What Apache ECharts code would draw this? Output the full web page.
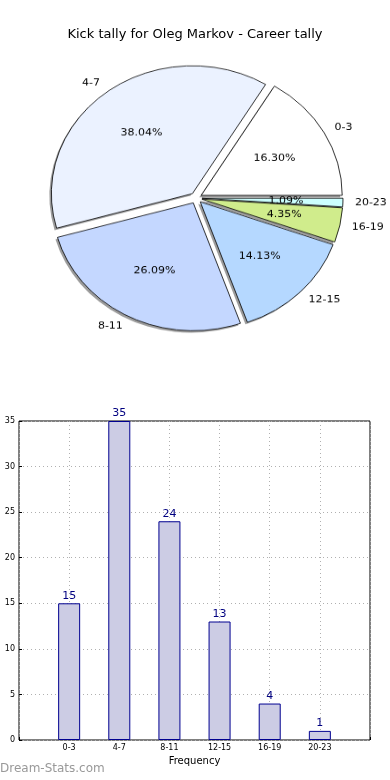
<!DOCTYPE html>
<html>
<head>
<meta charset="utf-8">
<script src="https://cdn.jsdelivr.net/npm/echarts@6/dist/echarts.min.js"></script>
<style>
html,body{margin:0;padding:0;background:#fff;}
#wrap{position:relative;width:390px;height:780px;overflow:hidden;}
#main{position:absolute;left:0;top:0;width:390px;height:780px;}
#pie{position:absolute;left:0;top:0;width:390px;height:400px;transform:scaleY(0.907);transform-origin:196px 198px;}
</style>
</head>
<body>
<div id="wrap"><div id="main"></div><div id="pie"></div></div>
<script>
const titleText = 'Kick tally for Oleg Markov - Career tally';
const categories = ['0-3', '4-7', '8-11', '12-15', '16-19', '20-23'];
const counts = [15, 35, 24, 13, 4, 1];
const pieColors = ['#ffffff', '#ebf2ff', '#c4d7ff', '#b5d8ff', '#d0ec8c', '#ccffff'];
const yMin = 0, yMax = 35, yStep = 5;
const xAxisName = 'Frequency';
const yAxisName = 'Distribution';
const watermark = 'Dream-Stats.com';

const FONT = 'DejaVu Sans';
const total = counts.reduce((a, b) => a + b, 0);

// ---------- main chart: title + bar chart ----------
const main = echarts.init(document.getElementById('main'), null, {renderer: 'canvas'});
main.setOption({
  animation: false,
  title: {
    text: titleText, left: 'center', top: 23,
    textStyle: {fontFamily: FONT, fontSize: 13, fontWeight: 'normal', color: '#000'}
  },
  grid: {left: 19, right: 20, top: 421, bottom: 40, containLabel: false, outerBoundsMode: 'none',
    show: true, borderColor: '#000', borderWidth: 1, backgroundColor: 'transparent'},
  xAxis: {
    type: 'value', min: 0, max: categories.length + 1, interval: 1,
    name: xAxisName, nameLocation: 'middle', nameGap: 16,
    nameTextStyle: {fontFamily: FONT, fontSize: 10, color: '#000'},
    axisLine: {show: false},
    axisTick: {show: true, inside: true, length: 3, lineStyle: {color: '#000'}},
    axisLabel: {fontFamily: FONT, fontSize: 8, color: '#000', margin: 4,
      formatter: v => (v >= 1 && v <= categories.length) ? categories[v - 1] : ''},
    splitLine: {show: true, lineStyle: {color: '#b0b0b0', type: [1, 3], width: 1}}
  },
  yAxis: {
    type: 'value', min: yMin, max: yMax, interval: yStep,
    name: yAxisName, nameLocation: 'middle', nameGap: 18, nameRotate: 90,
    nameTextStyle: {fontFamily: FONT, fontSize: 10, color: '#000'},
    axisLine: {show: false},
    axisTick: {show: true, inside: true, length: 3, lineStyle: {color: '#000'}},
    axisLabel: {fontFamily: FONT, fontSize: 8, color: '#000', margin: 4},
    splitLine: {show: true, lineStyle: {color: '#b0b0b0', type: [1, 3], width: 1}}
  },
  graphic: [{
    type: 'text', left: 0, top: 763,
    style: {text: watermark, fontFamily: FONT, fontSize: 12, fontWeight: 'normal', fill: '#999999'}
  }],
  series: [{
    type: 'bar',
    data: counts.map((v, i) => [i + 1, v]),
    barWidth: 22,
    itemStyle: {color: '#ccccE4', borderColor: '#000090', borderWidth: 1},
    label: {show: true, position: 'top', distance: 2, fontFamily: FONT, fontSize: 11, color: '#000080'},
    z: 1
  }]
});

// ---------- pie chart ----------
const R = 141;
const OFF = 6;
const CX = 196, CY = 198;
const pie = echarts.init(document.getElementById('pie'), null, {renderer: 'canvas'});
const common = {
  type: 'pie', radius: [0, R], startAngle: 0, clockwise: false,
  selectedMode: 'multiple', selectedOffset: OFF, avoidLabelOverlap: false,
  emphasis: {disabled: true}, silent: true
};
pie.setOption({
  animation: false,
  series: [
    Object.assign({}, common, {
      center: [CX - 2, CY + 2.2],
      data: categories.map((c, i) => ({name: c, value: counts[i], selected: true})),
      itemStyle: {color: 'rgba(90,90,90,0.6)', borderWidth: 0},
      select: {itemStyle: {color: 'rgba(90,90,90,0.6)', borderWidth: 0}},
      label: {show: false}, labelLine: {show: false}, z: 1
    }),
    Object.assign({}, common, {
      center: [CX, CY],
      data: categories.map((c, i) => ({name: c, value: counts[i], selected: true, itemStyle: {color: pieColors[i]}})),
      itemStyle: {borderColor: '#000', borderWidth: 0.8},
      select: {itemStyle: {borderColor: '#000', borderWidth: 0.8}},
      label: {show: true, position: 'outside', fontFamily: FONT, fontSize: 11, color: '#000', distanceToLabelLine: 0, formatter: p => p.name},
      labelLine: {show: false, length: 12, length2: 0}, z: 2
    }),
    Object.assign({}, common, {
      center: [CX, CY], radius: [0, R * 1.15],
      data: categories.map((c, i) => ({name: c, value: counts[i], selected: true})),
      itemStyle: {color: 'rgba(0,0,0,0)', borderWidth: 0},
      select: {itemStyle: {color: 'rgba(0,0,0,0)', borderWidth: 0}},
      label: {show: true, position: 'inside', fontFamily: FONT, fontSize: 11, color: '#000',
        formatter: p => (p.value / total * 100).toFixed(2) + '%'},
      labelLine: {show: false}, z: 5
    })
  ]
});
</script>
</body>
</html>
